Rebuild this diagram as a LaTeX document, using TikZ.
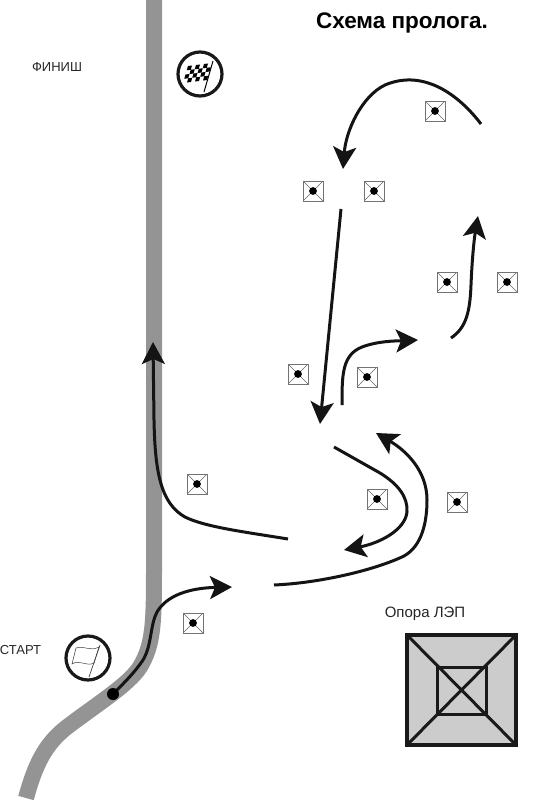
\documentclass[tikz,border=0pt]{standalone}
\usepackage{fontspec}
\setmainfont{Liberation Sans}
\usetikzlibrary{arrows.meta}
\tikzset{
  roadline/.style={draw=black!42,line width=16pt,line join=round},
  route/.style={draw=black!92,line width=3pt},
  routetip/.style={route,-{Stealth[length=22pt,width=23pt,inset=5pt]}},
  lbl/.style={inner sep=0pt,text=black!85},
  pylonbox/.style={draw=black!55,fill=white,line width=.9pt,minimum size=20pt,inner sep=0pt,
    path picture={
      \draw[black!60,line width=.6pt] (path picture bounding box.north west)--(path picture bounding box.south east)
        (path picture bounding box.north east)--(path picture bounding box.south west);
      \fill[black] (path picture bounding box.center) circle (3.9pt);}},
  badge/.style={draw=black!90,line width=3.2pt,circle,minimum size=44pt,inner sep=0pt,fill=white},
}
\begin{document}
\begin{tikzpicture}[x=1pt,y=-1pt]
\useasboundingbox (0,0) rectangle (556,800);
\fill[white] (0,0) rectangle (556,800);
% road
\draw[roadline] (154,0) -- (154,570) .. controls (154,625) and (153,645) .. (140,667)
  .. controls (128,685) and (100,702) .. (67,727)
  .. controls (45,744) and (35,765) .. (26,798);
% pylons
\foreach \n/\x/\y in {a/435/111,b/313/191,c/374/191,d/447/282,e/507/282,f/298/374,g/367/377,h/197/484,i/377/499,j/457/502,k/193/623}
  \node[pylonbox] (p\n) at (\x,\y) {};
% named ends
\coordinate (r1s) at (481,124); \coordinate (r1e) at (343,169);
\coordinate (r2s) at (341,209); \coordinate (r2e) at (320,424);
\coordinate (r3s) at (342,405); \coordinate (r3e) at (418,340);
\coordinate (r4s) at (451,338); \coordinate (r4e) at (478,216);
\coordinate (r5s) at (334,447); \coordinate (r5e) at (344,550);
\coordinate (r6s) at (274,585); \coordinate (r6e) at (376,433);
\coordinate (r7s) at (288,539); \coordinate (r7e) at (153,342);
\coordinate (r8s) at (113,694); \coordinate (r8e) at (232,587);
% routes
\draw[routetip] (r1s) .. controls (455,90) and (420,70) .. (385,85)
  .. controls (362,96) and (346,130) .. (r1e);
\draw[routetip] (r2s) -- (r2e);
\draw[routetip] (r3s) .. controls (342,375) and (342,355) .. (362,347)
  .. controls (378,341) and (395,341) .. (r3e);
\draw[routetip] (r4s) .. controls (466,328) and (470,312) .. (471,285)
  .. controls (472,260) and (474,240) .. (r4e);
\draw[routetip] (r5s) -- (380,473) .. controls (398,484) and (408,497) .. (407,512)
  .. controls (405,530) and (380,543) .. (r5e);
\draw[routetip] (r6s) .. controls (320,583) and (375,570) .. (404,556)
  .. controls (422,546) and (427,522) .. (427,500)
  .. controls (427,470) and (405,450) .. (r6e);
\draw[routetip] (r7s) .. controls (245,532) and (205,527) .. (185,517)
  .. controls (160,503) and (155,470) .. (154,420) -- (r7e);
\draw[routetip] (r8s) .. controls (125,682) and (135,672) .. (143,660)
  .. controls (152,645) and (150,625) .. (157,612)
  .. controls (167,595) and (190,588) .. (r8e);
\fill[black] (r8s) circle (6pt);
% finish badge
\node[badge] (fin) at (200,74) {};
\foreach \i in {0,...,5}\foreach \j in {0,...,3}{
  \pgfmathtruncatemacro{\parity}{mod(\i+\j,2)}
  \ifnum\parity=0
  \fill[black]
   ({188+(\i/6)*24-(\j/4)*5},{66-(\i/6)*3+(\j/4)*17})
   -- ({188+((\i+1)/6)*24-(\j/4)*5},{66-((\i+1)/6)*3+(\j/4)*17})
   -- ({188+((\i+1)/6)*24-((\j+1)/4)*5},{66-((\i+1)/6)*3+((\j+1)/4)*17})
   -- ({188+(\i/6)*24-((\j+1)/4)*5},{66-(\i/6)*3+((\j+1)/4)*17}) -- cycle;
  \fi}
\draw[black,line width=1pt] (213,61) -- (204,92);
% start badge
\node[badge] (sta) at (88,658) {};
\draw[black!75,line width=.7pt] (100,645) -- (89,677);
\draw[black!75,line width=.5pt] (76,648) .. controls (84,645) and (90,652) .. (99,647)
  -- (94,663) .. controls (86,667) and (80,659) .. (72,664) -- cycle;
% pylon legend
\filldraw[fill=black!20,draw=black!90,line width=3.2pt] (407,635) rectangle (516,745);
\draw[black!90,line width=3pt] (407,635)--(516,745) (516,635)--(407,745);
\draw[black!90,line width=3pt] (437,667) rectangle (486,714);
% text
\node[lbl,font=\bfseries\fontsize{22.5}{24}\selectfont,text=black] (title) at (402,23) {Схема пролога.};
\node[lbl,font=\fontsize{13}{15}\selectfont] (finish) at (57,67) {ФИНИШ};
\node[lbl,font=\fontsize{13}{15}\selectfont] (start) at (20.5,650) {СТАРТ};
\node[lbl,font=\fontsize{15}{17}\selectfont] (leg) at (425,614) {Опора ЛЭП};
\end{tikzpicture}
\end{document}
